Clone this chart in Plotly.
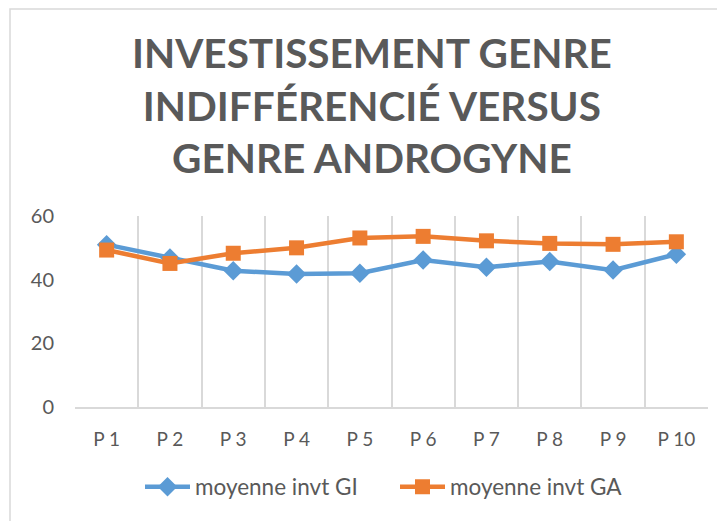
import plotly.graph_objects as go

categories = ["P1", "P2", "P3", "P4", "P5", "P6", "P7", "P8", "P9", "P10"]
tick_labels = ["P 1", "P 2", "P 3", "P 4", "P 5", "P 6", "P 7", "P 8", "P 9", "P 10"]
moyenne_gi = [51.0, 46.8, 42.8, 41.8, 42.0, 46.2, 43.9, 45.7, 43.0, 48.0]
moyenne_ga = [49.3, 45.1, 48.3, 50.0, 53.1, 53.6, 52.2, 51.4, 51.1, 51.9]
title_lines = ["INVESTISSEMENT GENRE", "INDIFFÉRENCIÉ VERSUS", "GENRE ANDROGYNE"]

W, H = 725, 521
off = 8  # page body margin: positions below are page pixels
ml, mt = 75 - off, 216 - off
mr, mb = W - (708 - off), H - (407 - off)
pw, ph = W - ml - mr, H - mt - mb

grey = "#595959"
font_name = "Lato, 'Open Sans', sans-serif"


def px_x(x):
    return (x - off - ml) / pw


def px_y(y):
    return (H - mb - (y - off)) / ph


fig = go.Figure()
_ = fig.add_trace(
        go.Scatter(
            x=categories, y=moyenne_gi,
            name="moyenne invt GI",
            mode="lines+markers",
            line=dict(color="#5B9BD5", width=4.5),
            marker=dict(symbol="diamond", size=15, color="#5B9BD5"),
            )
        )
_ = fig.add_trace(
        go.Scatter(
            x=categories, y=moyenne_ga,
            name="moyenne invt GA",
            mode="lines+markers",
            line=dict(color="#ED7D31", width=4.5),
            marker=dict(symbol="square", size=15, color="#ED7D31"),
            )
        )

_ = fig.update_xaxes(
        type="category",
        tickmode="array", tickvals=categories, ticktext=tick_labels,
        tickson="boundaries",
        showgrid=True, gridcolor="#D9D9D9", gridwidth=1.5,
        showline=True, linecolor="#D9D9D9", linewidth=1.5,
        ticks="", ticklabelstandoff=14,
        tickfont=dict(size=19, color=grey, family=font_name),
        range=[-0.5, 9.5],
        )
_ = fig.update_yaxes(
        range=[0, 60], tickvals=[0, 20, 40, 60],
        showgrid=False, zeroline=False, showline=False,
        ticks="", ticklabelstandoff=20,
        tickfont=dict(size=20, color=grey, family=font_name),
        )

# chart area border (only left and top edges visible in the crop)
_ = fig.add_shape(
        type="rect", xref="paper", yref="paper",
        x0=px_x(10), x1=px_x(W + 30),
        y0=px_y(H + 30), y1=px_y(off + 1),
        line=dict(color="#D9D9D9", width=1.5),
        layer="below",
        )

_ = fig.add_annotation(
        text="<br>".join(title_lines),
        xref="paper", yref="paper",
        x=px_x(372), y=px_y(26),
        xanchor="center", yanchor="top",
        showarrow=False, align="center",
        font=dict(size=40.5, color=grey, family=font_name, weight="bold"),
        )

_ = fig.update_layout(
        width=W, height=H,
        margin=dict(l=ml, r=mr, t=mt, b=mb, autoexpand=False),
        paper_bgcolor="white", plot_bgcolor="white",
        legend=dict(
            orientation="h", x=px_x(140), xanchor="left",
            y=px_y(487), yanchor="middle",
            font=dict(size=22.5, color=grey, family=font_name),
            itemwidth=45, entrywidth=195,
            ),
        showlegend=True,
        )

fig.write_html("out.html")
